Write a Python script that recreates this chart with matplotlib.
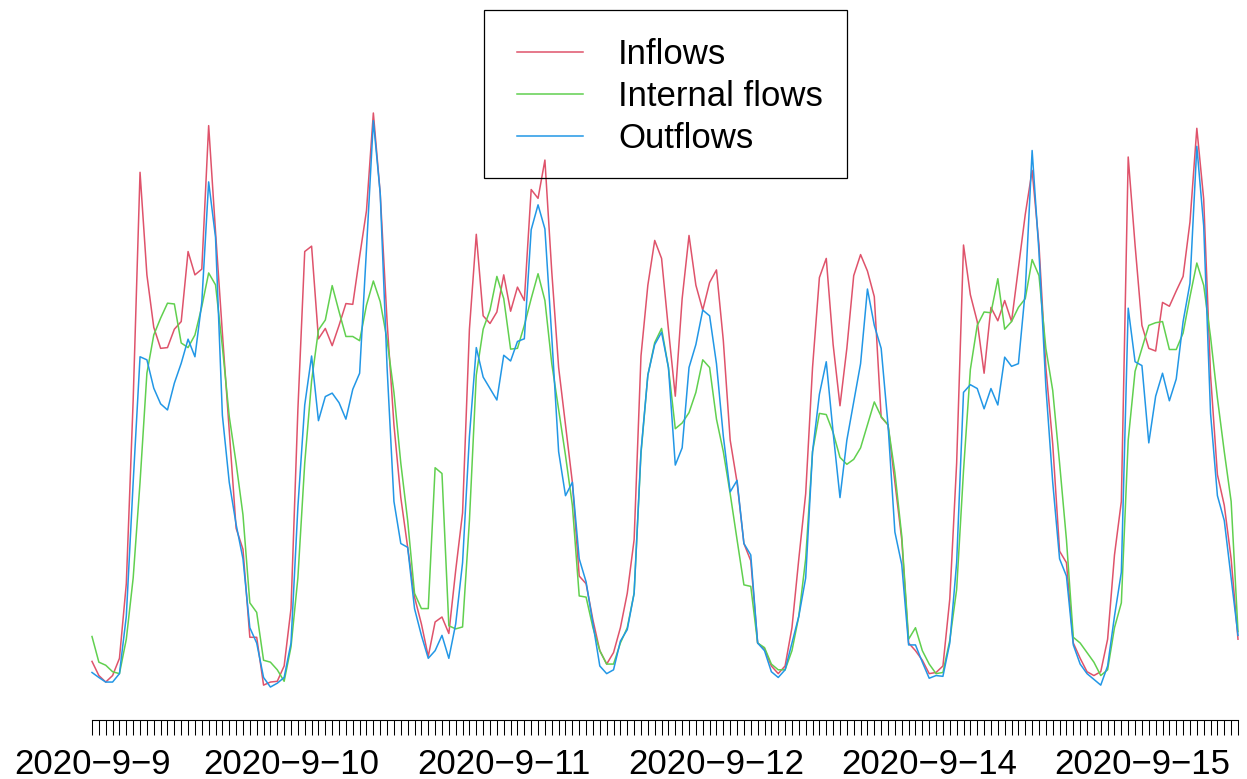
import matplotlib
matplotlib.use('Agg')
from matplotlib import pyplot as plt
from matplotlib.lines import Line2D
from matplotlib.patches import Rectangle
import numpy as np

# hourly flows, 2020-9-9 00:00 .. 2020-9-15 23:00
days = ['2020-9-9', '2020-9-10', '2020-9-11', '2020-9-12',
        '2020-9-13', '2020-9-14', '2020-9-15']
hours_per_day = 24
# ticks that get a date label (the rest are left blank so labels do not overlap)
label_at = [0, 29, 60, 91, 122, 153]

inflows = [
    92, 55, 38, 55, 100, 295, 775, 1370, 1102, 965, 910, 912, 960, 980, 1163, 1102,
    1117, 1492, 1215, 950, 695, 440, 385, 155,
    155, 30, 38, 40, 80, 230, 749, 1163, 1177, 935, 962, 917, 970, 1027, 1025, 1150,
    1270, 1525, 1315, 980, 710, 520, 390, 260,
    190, 105, 195, 208, 165, 330, 480, 960, 1208, 995, 975, 1005, 1102, 1007, 1070, 1035,
    1325, 1302, 1402, 1110, 860, 710, 560, 315,
    295, 200, 120, 85, 115, 180, 270, 410, 890, 1075, 1192, 1145, 960, 785, 1040, 1205,
    1075, 1010, 1082, 1115, 930, 670, 560, 400,
    355, 140, 125, 80, 60, 80, 180, 360, 530, 860, 1095, 1145, 920, 760, 910, 1100,
    1155, 1112, 1045, 730, 710, 560, 410, 140,
    120, 95, 60, 63, 80, 255, 610, 1180, 1050, 980, 845, 1017, 982, 1035, 980, 1120,
    1260, 1375, 1180, 860, 660, 380, 350, 140,
    100, 65, 55, 65, 150, 370, 510, 1410, 1180, 970, 910, 903, 1030, 1020, 1060, 1098,
    1240, 1485, 1300, 840, 580, 500, 360, 150,
]

internal_flows = [
    157, 90, 82, 65, 60, 150, 310, 560, 845, 945, 989, 1028, 1026, 924, 912, 945,
    1019, 1107, 1076, 914, 732, 610, 475, 245,
    220, 95, 90, 70, 40, 130, 310, 610, 825, 958, 984, 1074, 1006, 941, 941, 930,
    1023, 1086, 1032, 932, 795, 610, 460, 270,
    230, 230, 598, 583, 185, 177, 182, 460, 840, 960, 1010, 1098, 1040, 908, 910, 970,
    1040, 1105, 1035, 870, 750, 630, 500, 263,
    260, 180, 120, 85, 85, 140, 180, 270, 635, 840, 925, 962, 860, 700, 715, 742,
    795, 880, 860, 725, 640, 530, 410, 292,
    288, 140, 128, 85, 70, 70, 120, 210, 360, 640, 740, 737, 690, 625, 607, 620,
    650, 710, 770, 732, 710, 585, 420, 150,
    180, 120, 85, 60, 63, 147, 280, 590, 855, 970, 1005, 1003, 1092, 960, 980, 1017,
    1040, 1142, 1100, 910, 800, 610, 410, 155,
    140, 115, 90, 55, 70, 180, 245, 670, 850, 910, 970, 977, 980, 907, 907, 950,
    1045, 1133, 1075, 940, 780, 640, 510, 170,
]

outflows = [
    63, 50, 38, 38, 60, 210, 560, 888, 880, 806, 765, 749, 819, 871, 934, 888,
    1030, 1345, 1200, 735, 560, 450, 360, 180,
    140, 50, 25, 35, 50, 140, 495, 762, 890, 721, 784, 793, 768, 725, 803, 845,
    1170, 1505, 1315, 860, 510, 400, 390, 230,
    160, 100, 120, 160, 100, 190, 350, 680, 912, 835, 805, 775, 892, 877, 928, 935,
    1220, 1285, 1222, 940, 640, 525, 560, 360,
    300, 190, 80, 60, 70, 145, 175, 270, 640, 840, 920, 952, 860, 605, 650, 860,
    920, 1010, 995, 870, 680, 535, 565, 400,
    370, 140, 120, 65, 50, 70, 140, 210, 310, 640, 790, 875, 690, 520, 670, 770,
    870, 1065, 970, 910, 710, 430, 345, 135,
    135, 90, 48, 55, 53, 140, 350, 795, 815, 805, 752, 805, 762, 887, 863, 870,
    1060, 1427, 1160, 810, 560, 360, 315, 135,
    85, 60, 45, 30, 80, 210, 325, 1015, 875, 865, 663, 785, 845, 773, 830, 980,
    1080, 1438, 1230, 740, 525, 460, 310, 160,
]

series = [('Inflows', inflows, '#DF536B'),
          ('Internal flows', internal_flows, '#61D04F'),
          ('Outflows', outflows, '#2297E6')]

plt.rcParams['font.family'] = ['Liberation Sans', 'DejaVu Sans']

W, H = 1247, 779
fig = plt.figure(figsize=(W / 100, H / 100), dpi=100)


def fx(px):
    return px / W


def fy(py):
    return 1 - py / H


ax = fig.add_axes([fx(92), fy(696.6), 1146 / W, 597 / H])
x = np.arange(len(inflows))
for name, vals, col in series:
    ax.plot(x, vals, color=col, lw=1.1, clip_on=False)

ax.set_xlim(0, len(x) - 1)
ax.set_ylim(0, 1560)
for s in ['top', 'right', 'left']:
    ax.spines[s].set_visible(False)
ax.spines['bottom'].set_position(('outward', 16.85))
ax.spines['bottom'].set_linewidth(0.8)
ax.set_yticks([])

ax.set_xticks(x)
labels = [days[i // hours_per_day].replace('-', '\u2212') if i in label_at else ''
          for i in x]
ax.set_xticklabels(labels, fontsize=25)
ax.tick_params(axis='x', length=10.8, width=0.75, pad=9, direction='out')

# legend box drawn by hand, R style
fig.add_artist(Rectangle((fx(484), fy(178)), fx(847) - fx(484), fy(10) - fy(178),
                         transform=fig.transFigure, fill=False,
                         edgecolor='black', lw=0.9))
for k, (name, vals, col) in enumerate(series):
    yy = 52 + 42 * k
    fig.add_artist(Line2D([fx(517), fx(583)], [fy(yy), fy(yy)], color=col,
                          lw=1.1, transform=fig.transFigure))
    fig.text(fx(618), fy(yy + 12.5), name, fontsize=25, va='baseline', ha='left')

fig.savefig('out.png', dpi=100)
